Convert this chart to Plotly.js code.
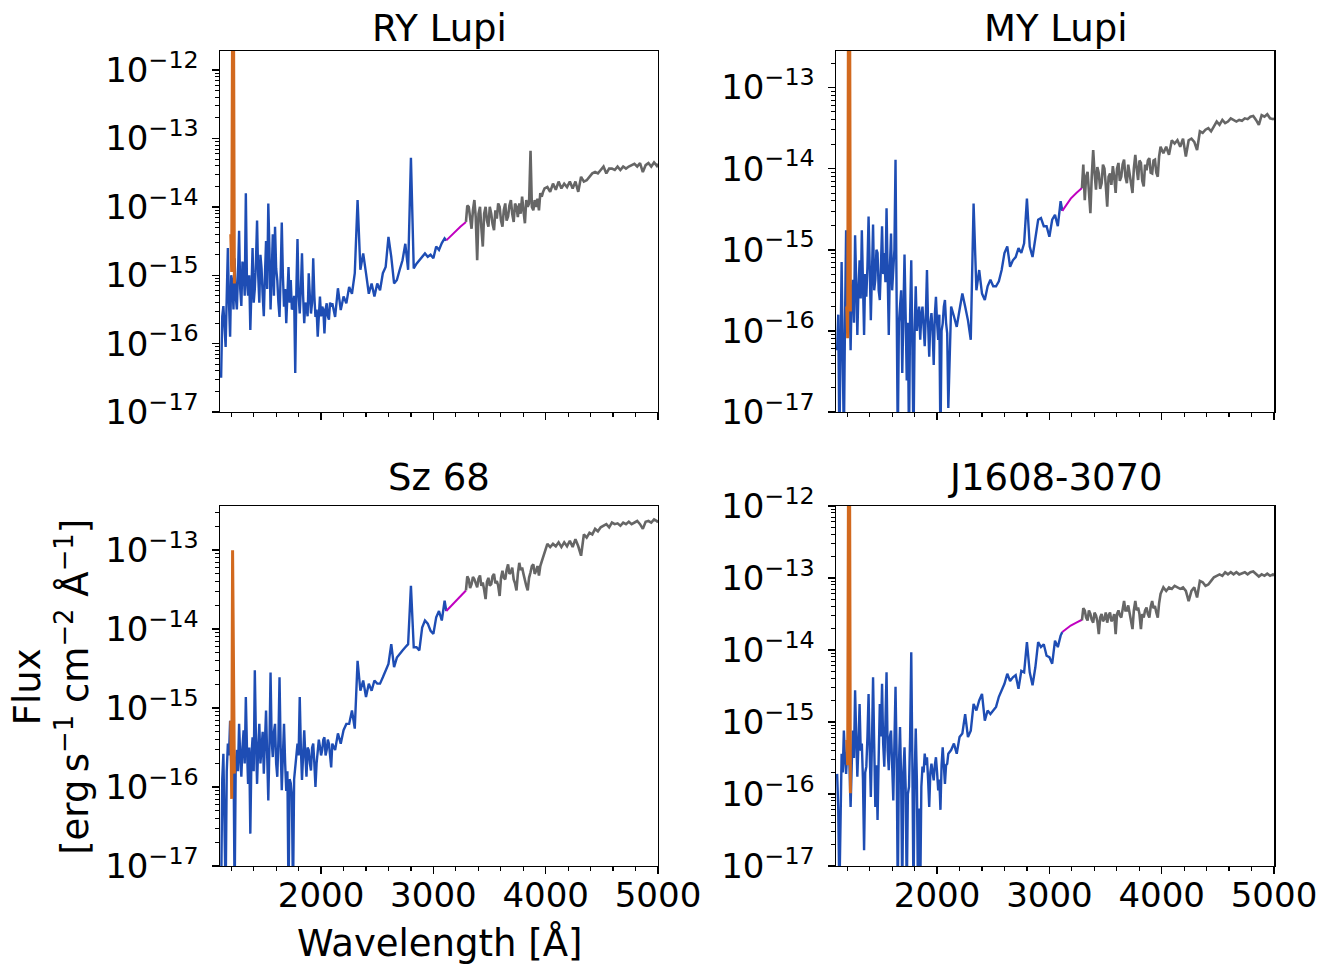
<!DOCTYPE html>
<html>
<head>
<meta charset="utf-8">
<script src="https://cdn.plot.ly/plotly-3.0.1.min.js"></script>
<style>body{margin:0;background:#fff}</style>
</head>
<body>
<div id="chart" style="width:1332px;height:966px"></div>
<script>
// wavelength grids (Angstrom)
const wlFUV = [1110,1120,1130,1140,1150,1160,1170,1180,1190,1200,1210,1220,1230,1240,1250,1260,1270,1280,1290,1300,
  1310,1320,1330,1340,1350,1360,1370,1380,1390,1400,1410,1420,1430,1440,1450,1460,1470,1480,1490,1500,
  1510,1520,1530,1540,1550,1560,1570,1580,1590,1600,1610,1620,1630,1640,1650,1660,1670,1680,1690,1700,
  1710,1720,1730,1740,1750,1760,1770,1780,1790,1800,1810,1820,1830,1840,1850,1860,1870,1880,1890,1900,
  1910,1920,1930,1940,1950,1960,1970,1980,1990,2000,2010,2020,2030,2040,2050,2060,2070,2080,2090];
const wlNUV = [2100,2125,2150,2175,2200,2225,2250,2275,2300,2325,2350,2375,2400,2425,2450,2475,2500,2525,2550,2575,
  2600,2625,2650,2675,2700,2725,2750,2775,2800,2825,2850,2875,2900,2925,2950,2975,3000,3025,3050,3075,3100,3115];
const wlMag = [3115,3150,3190,3240,3290];
const wlOpt = [3290,3302,3315,3327,3340,3352,3365,3377,3390,3402,3415,3427,3440,3452,3465,3477,3490,3502,3515,3527,
  3540,3552,3565,3577,3590,3602,3615,3627,3640,3652,3665,3677,3690,3702,3715,3727,3740,3752,3765,3777,
  3790,3802,3815,3827,3840,3852,3865,3877,3890,3902,3915,3927,3940,3952,3965,3977,3990,
  4015,4040,4065,4090,4115,4140,4165,4190,4215,4240,4265,
  4290,4315,4340,4365,4390,4415,4440,4465,4490,4515,4540,4565,4590,4615,4640,4665,4690,4715,4740,4765,
  4790,4815,4840,4865,4890,4915,4940,4965,4990,5000];
const wlLya = [1196,1204,1212,1220,1228];

// log10 flux [erg s-1 cm-2 A-1]
// RY Lupi
const ryFUV = [-16.5,-15.6,-15.45,-15.7,-16.05,-15.3,-14.6,-15.4,-15.9,-15.0,-15.1,-15.5,-14.75,-15.3,-15.5,-15.0,-14.35,-15.2,-15.45,-14.8,
  -14.9,-15.3,-13.8,-15.1,-15.3,-15.0,-15.8,-15.2,-14.6,-15.4,-15.2,-14.8,-14.2,-15.0,-15.4,-14.7,-14.9,-15.3,-15.6,-15.0,
  -14.5,-15.2,-13.95,-14.6,-15.5,-15.0,-14.4,-15.3,-14.29,-14.9,-15.07,-15.4,-15.61,-15.0,-14.23,-15.0,-15.46,-15.2,-15.7,-15.3,
  -14.88,-15.4,-15.07,-15.5,-15.46,-15.3,-16.43,-15.2,-14.47,-15.3,-15.56,-15.2,-14.68,-15.3,-15.7,-15.4,-15.46,-15.6,-14.97,-15.3,
  -15.56,-15.4,-14.75,-15.3,-15.61,-15.5,-15.9,-15.6,-15.31,-15.6,-15.46,-15.5,-15.85,-15.5,-15.41,-15.6,-15.65,-15.4,-15.46];
const ryNUV = [-15.41,-15.61,-15.19,-15.51,-15.31,-15.41,-15.17,-15.27,-14.97,-13.9,-14.92,-14.68,-14.97,-15.27,-15.12,-15.31,-15.12,-15.22,-14.97,-14.88,
  -14.44,-14.73,-15.12,-15.07,-14.92,-14.78,-14.54,-14.92,-13.28,-14.9,-14.83,-14.78,-14.73,-14.68,-14.73,-14.7,-14.75,-14.58,-14.63,-14.53,-14.46,-14.49];
const ryMag = [-14.49,-14.43,-14.36,-14.29,-14.22];
const ryOpt = [-14.22,-13.98,-14.0,-14.2,-14.32,-14.05,-13.9,-14.15,-14.78,-14.1,-14.0,-14.3,-14.58,-14.1,-14.0,-14.2,-14.29,-14.0,-14.1,-14.25,
  -14.34,-14.05,-14.17,-13.95,-14.0,-14.2,-14.29,-14.05,-13.95,-14.2,-14.14,-13.98,-13.9,-14.1,-14.22,-13.95,-14.0,-14.15,-13.95,-14.1,
  -13.85,-14.05,-14.24,-13.9,-14.0,-13.95,-13.18,-14.0,-14.05,-13.9,-14.0,-13.88,-14.05,-13.8,-13.85,-13.78,-13.73,
  -13.71,-13.78,-13.66,-13.75,-13.63,-13.73,-13.66,-13.71,-13.63,-13.73,-13.63,
  -13.78,-13.56,-13.63,-13.61,-13.56,-13.51,-13.49,-13.51,-13.46,-13.41,-13.51,-13.44,-13.44,-13.46,-13.41,-13.46,-13.41,-13.44,-13.41,-13.39,
  -13.37,-13.41,-13.36,-13.49,-13.39,-13.36,-13.41,-13.35,-13.4,-13.37];
const ryLya = [-14.4,-14.95,-11.0,-11.0,-15.12];

// MY Lupi
const myFUV = [-16.24,-15.8,-17.4,-16.0,-15.15,-16.3,-17.4,-15.9,-14.76,-15.6,-15.82,-15.5,-16.24,-15.5,-15.37,-15.9,-14.82,-15.4,-16.05,-15.5,
  -15.13,-15.6,-14.76,-15.4,-16.05,-15.3,-15.58,-15.2,-14.59,-15.2,-15.87,-15.3,-14.69,-15.5,-15.37,-15.0,-15.04,-15.5,-15.62,-15.2,
  -14.71,-15.3,-15.04,-15.4,-14.49,-15.3,-16.05,-15.2,-14.8,-15.5,-15.29,-15.0,-13.89,-15.6,-17.4,-15.9,-15.7,-15.5,-16.52,-15.6,
  -15.06,-15.8,-16.61,-15.9,-17.4,-15.8,-15.13,-16.2,-17.4,-16.0,-15.45,-16.0,-15.78,-15.7,-16.11,-15.8,-15.7,-16.0,-16.19,-15.8,
  -15.25,-15.9,-16.32,-15.9,-15.78,-16.0,-16.42,-15.8,-15.58,-15.9,-16.11,-15.8,-17.4,-16.0,-15.91,-15.7,-15.62,-15.9,-16.03];
const myNUV = [-16.95,-15.7,-15.82,-15.95,-15.74,-15.54,-15.7,-15.87,-16.11,-14.43,-15.5,-15.25,-15.54,-15.62,-15.45,-15.37,-15.45,-15.45,-15.39,-15.25,
  -15.04,-14.96,-15.21,-15.13,-15.09,-14.98,-15.04,-14.92,-14.37,-14.96,-15.09,-14.84,-14.63,-14.61,-14.71,-14.71,-14.84,-14.63,-14.57,-14.71,-14.4,-14.52];
const myMag = [-14.52,-14.45,-14.37,-14.3,-14.24];
const myOpt = [-14.24,-13.95,-14.39,-14.1,-14.04,-14.25,-14.55,-14.1,-13.77,-14.05,-14.26,-13.98,-14.06,-14.25,-14.18,-13.95,-14.0,-14.2,-14.47,-14.1,
  -14.06,-14.2,-13.97,-14.1,-14.3,-14.0,-13.93,-14.15,-14.1,-13.95,-13.89,-14.1,-14.18,-13.95,-14.06,-14.2,-14.3,-14.0,-13.83,-14.0,
  -14.14,-13.9,-13.93,-14.15,-14.22,-13.95,-14.02,-13.9,-13.87,-14.05,-14.06,-13.9,-13.89,-14.05,-14.1,-13.85,-13.73,
  -13.81,-13.73,-13.83,-13.65,-13.69,-13.65,-13.73,-13.63,-13.85,-13.65,-13.63,
  -13.67,-13.77,-13.54,-13.56,-13.52,-13.5,-13.54,-13.48,-13.42,-13.46,-13.4,-13.44,-13.42,-13.38,-13.4,-13.42,-13.4,-13.41,-13.38,-13.39,
  -13.36,-13.35,-13.4,-13.46,-13.34,-13.36,-13.33,-13.38,-13.39,-13.38];
const myLya = [-15.7,-16.09,-11.0,-11.0,-15.76];

// Sz 68
const szFUV = [-17.4,-15.9,-15.58,-16.2,-17.4,-15.8,-15.45,-15.6,-15.16,-15.7,-15.83,-15.5,-17.4,-15.7,-15.53,-15.8,-15.2,-15.6,-15.87,-15.5,
  -15.28,-15.7,-14.86,-15.5,-15.96,-15.5,-16.59,-15.6,-15.37,-15.8,-14.52,-15.4,-15.96,-15.5,-15.2,-15.7,-15.53,-15.3,-15.83,-15.4,
  -15.03,-15.6,-16.17,-15.5,-14.55,-15.4,-15.62,-15.3,-15.2,-15.7,-15.87,-15.4,-14.61,-15.5,-16.04,-15.6,-15.2,-15.7,-16.05,-15.8,
  -17.4,-15.9,-15.95,-16.1,-17.4,-15.9,-15.75,-15.5,-15.45,-15.6,-14.86,-15.5,-15.91,-15.6,-15.28,-15.6,-15.87,-15.5,-15.53,-15.7,
  -15.79,-15.5,-15.45,-15.7,-16.0,-15.7,-15.58,-15.4,-15.49,-15.6,-15.53,-15.4,-15.37,-15.6,-15.53,-15.4,-15.45,-15.6,-15.75];
const szNUV = [-15.45,-15.53,-15.32,-15.45,-15.28,-15.2,-15.2,-15.03,-15.26,-14.4,-14.78,-14.65,-14.86,-14.69,-14.78,-14.65,-14.69,-14.69,-14.61,-14.52,
  -14.44,-14.19,-14.48,-14.36,-14.31,-14.27,-14.23,-14.19,-13.45,-14.23,-14.23,-14.27,-13.98,-13.89,-13.93,-14.02,-14.06,-13.85,-13.77,-13.89,-13.64,-13.77];
const szMag = [-13.77,-13.72,-13.65,-13.58,-13.51];
const szOpt = [-13.51,-13.33,-13.37,-13.48,-13.43,-13.34,-13.37,-13.42,-13.47,-13.36,-13.32,-13.45,-13.41,-13.5,-13.62,-13.4,-13.35,-13.45,-13.43,-13.33,
  -13.3,-13.42,-13.39,-13.45,-13.58,-13.35,-13.26,-13.35,-13.37,-13.25,-13.18,-13.3,-13.28,-13.22,-13.37,-13.42,-13.51,-13.3,-13.16,-13.25,
  -13.22,-13.3,-13.39,-13.45,-13.51,-13.35,-13.28,-13.2,-13.18,-13.3,-13.26,-13.2,-13.32,-13.2,-13.14,-13.08,-13.03,
  -12.92,-12.96,-12.92,-12.95,-12.9,-12.96,-12.9,-12.95,-12.88,-12.96,-12.86,
  -12.95,-13.07,-12.8,-12.84,-12.78,-12.8,-12.73,-12.76,-12.71,-12.69,-12.67,-12.71,-12.65,-12.67,-12.66,-12.69,-12.65,-12.67,-12.64,-12.67,
  -12.65,-12.63,-12.67,-12.73,-12.64,-12.63,-12.65,-12.61,-12.63,-12.65];
const szLya = [-15.16,-16.15,-13.0,-15.4,-15.83];

// J1608-3070
const jFUV = [-15.72,-16.2,-17.4,-16.0,-15.44,-15.7,-15.12,-15.5,-15.72,-15.4,-15.3,-15.6,-16.18,-15.6,-15.12,-15.5,-14.56,-15.2,-15.76,-15.3,
  -14.75,-15.4,-15.3,-15.8,-16.78,-15.7,-15.62,-15.2,-14.61,-15.4,-16.04,-15.3,-14.38,-15.3,-16.18,-15.6,-16.36,-15.5,-14.75,-15.2,
  -14.47,-15.3,-15.62,-15.0,-14.31,-15.4,-15.67,-15.2,-15.12,-15.6,-16.09,-15.3,-14.51,-15.5,-17.4,-15.6,-15.07,-15.8,-17.4,-15.7,
  -15.35,-15.9,-17.4,-16.0,-15.9,-15.2,-14.03,-15.6,-17.4,-15.8,-15.09,-15.8,-17.4,-16.2,-17.4,-15.9,-15.62,-15.7,-15.44,-15.6,
  -15.49,-15.8,-16.18,-15.7,-15.58,-15.7,-15.81,-15.6,-15.49,-15.7,-15.95,-15.8,-16.22,-15.6,-15.35,-15.6,-15.86,-15.6,-15.58];
const jNUV = [-15.44,-15.39,-15.3,-15.44,-15.21,-15.16,-14.89,-15.21,-15.12,-14.75,-14.84,-14.7,-14.61,-14.98,-14.84,-14.89,-14.84,-14.79,-14.65,-14.56,
  -14.47,-14.33,-14.43,-14.38,-14.35,-14.54,-14.29,-14.31,-13.89,-14.31,-14.49,-14.24,-13.89,-13.96,-13.92,-14.08,-14.1,-14.19,-13.87,-13.96,-13.8,-13.75];
const jMag = [-13.75,-13.71,-13.66,-13.62,-13.58];
const jOpt = [-13.59,-13.42,-13.45,-13.55,-13.59,-13.45,-13.5,-13.58,-13.62,-13.48,-13.52,-13.6,-13.78,-13.55,-13.5,-13.6,-13.57,-13.48,-13.62,-13.52,
  -13.48,-13.6,-13.57,-13.5,-13.78,-13.5,-13.45,-13.52,-13.55,-13.42,-13.32,-13.45,-13.45,-13.38,-13.5,-13.55,-13.71,-13.45,-13.32,-13.45,
  -13.41,-13.5,-13.71,-13.5,-13.55,-13.45,-13.41,-13.5,-13.55,-13.4,-13.32,-13.42,-13.39,-13.48,-13.55,-13.35,-13.22,
  -13.13,-13.18,-13.13,-13.15,-13.11,-13.13,-13.15,-13.13,-13.18,-13.32,-13.18,
  -13.13,-13.27,-13.04,-13.06,-13.11,-13.09,-13.04,-12.99,-12.97,-12.95,-12.97,-12.92,-12.95,-12.92,-12.95,-12.92,-12.95,-12.94,-12.92,-12.95,
  -12.92,-12.91,-12.95,-12.98,-12.95,-12.97,-12.94,-12.97,-12.95,-12.97];
const jLya = [-15.25,-15.6,-11.0,-11.0,-15.99];

const titles = ['RY Lupi', 'MY Lupi', 'Sz 68', 'J1608-3070'];
const yTops = [-11.72, -12.55, -12.44, -12.0];

const panels = [
  { fuv: ryFUV, nuv: ryNUV, mag: ryMag, opt: ryOpt, lya: ryLya },
  { fuv: myFUV, nuv: myNUV, mag: myMag, opt: myOpt, lya: myLya },
  { fuv: szFUV, nuv: szNUV, mag: szMag, opt: szOpt, lya: szLya },
  { fuv: jFUV, nuv: jNUV, mag: jMag, opt: jOpt, lya: jLya }
];

const wlUV = wlFUV.concat(wlNUV);
const toFlux = arr => arr.map(v => Math.pow(10, v));

const colors = { uv: '#1e4db4', mag: '#c000c0', opt: '#666666', lya: '#d2691e' };

const traces = [];
panels.forEach((p, i) => {
  const sfx = i === 0 ? '' : String(i + 1);
  const ax = { xaxis: 'x' + sfx, yaxis: 'y' + sfx, mode: 'lines', hoverinfo: 'skip', showlegend: false };
  traces.push(Object.assign({ x: wlUV, y: toFlux(p.fuv.concat(p.nuv)), line: { color: colors.uv, width: 2.4 } }, ax));
  traces.push(Object.assign({ x: wlMag, y: toFlux(p.mag), line: { color: colors.mag, width: 2 } }, ax));
  traces.push(Object.assign({ x: wlOpt, y: toFlux(p.opt), line: { color: colors.opt, width: 2.6 } }, ax));
  traces.push(Object.assign({ x: wlLya, y: toFlux(p.lya), line: { color: colors.lya, width: 3 } }, ax));
});

// axes
const xDomains = [[0.16517, 0.49399], [0.62763, 0.95646]];
const yDomains = [[0.57350, 0.94720], [0.10352, 0.47619]];
const titleY = [0.970, 0.5052];

const majorVals = [], majorText = [], minorVals = [];
for (let k = -17; k <= -12; k++) {
  majorVals.push(Math.pow(10, k));
  majorText.push('10<sup>\u2212' + (-k) + '</sup>');
}
for (let k = -18; k <= -12; k++) {
  for (let m = 2; m <= 9; m++) minorVals.push(m * Math.pow(10, k));
}

const tickFont = { family: 'DejaVu Sans', size: 34, color: '#000' };

const layout = {
  width: 1332,
  height: 966,
  margin: { l: 0, r: 0, t: 0, b: 0 },
  paper_bgcolor: '#fff',
  plot_bgcolor: '#fff',
  font: { family: 'DejaVu Sans', color: '#000' },
  showlegend: false,
  annotations: []
};

for (let i = 0; i < 4; i++) {
  const sfx = i === 0 ? '' : String(i + 1);
  const col = i % 2, row = Math.floor(i / 2);
  layout['xaxis' + sfx] = {
    domain: xDomains[col],
    anchor: 'y' + sfx,
    range: [1100, 5000],
    tickmode: 'linear', tick0: 0, dtick: 1000,
    ticks: 'outside', ticklen: 7, tickwidth: 1.5, tickcolor: '#000',
    showticklabels: row === 1,
    tickfont: tickFont,
    ticklabelstandoff: -8,
    showline: true, linecolor: '#000', linewidth: 1.5, mirror: true,
    showgrid: false, zeroline: false,
    minor: { tickmode: 'linear', tick0: 0, dtick: 200, ticks: 'outside', ticklen: 4, tickwidth: 1.2, tickcolor: '#000', showgrid: false }
  };
  layout['yaxis' + sfx] = {
    domain: yDomains[row],
    anchor: 'x' + sfx,
    type: 'log',
    range: [-17, yTops[i]],
    tickmode: 'array', tickvals: majorVals, ticktext: majorText,
    ticks: 'outside', ticklen: 7, tickwidth: 1.5, tickcolor: '#000',
    tickfont: tickFont,
    ticklabelstandoff: 6,
    showline: true, linecolor: '#000', linewidth: 1.5, mirror: true,
    showgrid: false, zeroline: false,
    minor: { tickmode: 'array', tickvals: minorVals, ticks: 'outside', ticklen: 4, tickwidth: 1, tickcolor: '#000', showgrid: false }
  };
  layout.annotations.push({
    text: titles[i], xref: 'paper', yref: 'paper',
    x: (xDomains[col][0] + xDomains[col][1]) / 2,
    y: titleY[row],
    xanchor: 'center', yanchor: 'middle', showarrow: false,
    font: { family: 'DejaVu Sans', size: 37, color: '#000' }
  });
}

layout.annotations.push({
  text: 'Wavelength [\u00c5]', xref: 'paper', yref: 'paper',
  x: (xDomains[0][0] + xDomains[0][1]) / 2, y: 0.024,
  xanchor: 'center', yanchor: 'middle', showarrow: false,
  font: { family: 'DejaVu Sans', size: 37, color: '#000' }
});
layout.annotations.push({
  text: 'Flux<br>[erg\u2009s<sup>\u22121</sup> cm<sup>\u22122</sup> \u00c5<sup>\u22121</sup>]',
  xref: 'paper', yref: 'paper',
  x: 52 / 1332, y: 0.289,
  xanchor: 'center', yanchor: 'middle', showarrow: false, textangle: -90,
  font: { family: 'DejaVu Sans', size: 37, color: '#000' }
});

Plotly.newPlot('chart', traces, layout, { staticPlot: true, displayModeBar: false });
</script>
</body>
</html>
